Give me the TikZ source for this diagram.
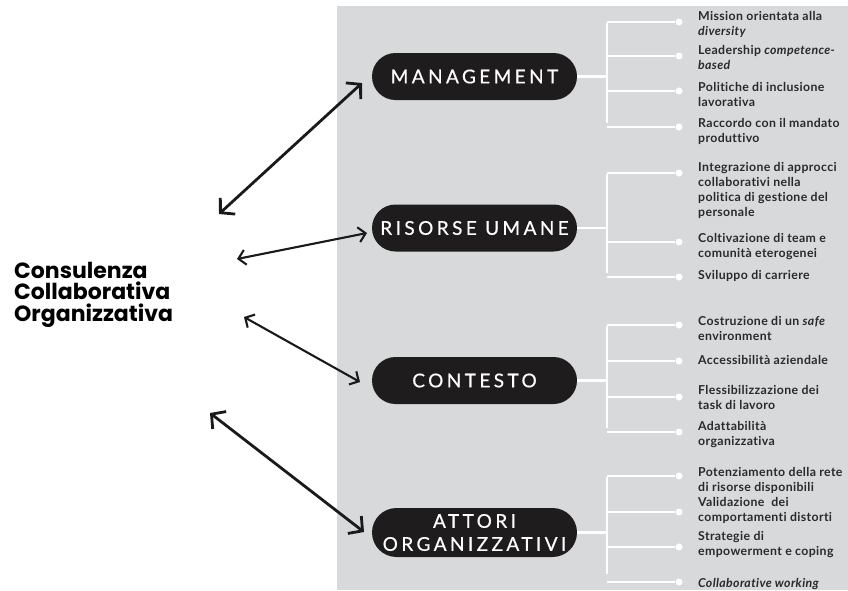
\documentclass[tikz,border=0pt]{standalone}
\usepackage{fontspec}
\setmainfont{Lato}
\newfontfamily\itemfont[LetterSpace=3,Ligatures={NoCommon}]{Lato}
\newfontfamily\pillfont[LetterSpace=18,FakeBold=0.6]{Lato}
\newfontfamily\titlefont{Poppins}
\usetikzlibrary{arrows.meta,shapes.misc}
\definecolor{panelgray}{HTML}{D8D9DB}
\definecolor{pillblack}{HTML}{1E1C1D}
\definecolor{inkdark}{HTML}{2A2A2A}
\definecolor{arrowink}{HTML}{1A1A1A}
\tikzset{
  pill/.style={rounded rectangle, fill=pillblack, text=white, minimum width=205pt,
    minimum height=47pt, inner sep=0pt, align=center,
    font=\pillfont\fontsize{19}{25}\selectfont},
  branch/.style={draw=white, line width=2.6pt},
  knob/.style={circle, fill=white, inner sep=0pt, minimum size=7pt},
  item/.style={anchor=north west, inner sep=0pt, align=left, text=inkdark,
    font=\itemfont\bfseries\fontsize{12.3}{15}\selectfont,
    execute at begin node={\rule{0pt}{10pt}}},
  bigarrow/.style={arrowink, line width=2.8pt, line cap=round,
    {Straight Barb[length=10pt,width=22pt]}-{Straight Barb[length=10pt,width=22pt]}},
  smallarrow/.style={arrowink, line width=2.1pt, line cap=round,
    {Straight Barb[length=7pt,width=15pt]}-{Straight Barb[length=7pt,width=15pt]}},
  title/.style={anchor=north west, inner sep=0pt, align=left, text=black,
    font=\titlefont\bfseries\fontsize{22}{21.5}\selectfont,
    execute at begin node={\rule{0pt}{17pt}}}
}
\begin{document}
\begin{tikzpicture}[x=1pt,y=-1pt]
\useasboundingbox (0,0) rectangle (848,590);
% grey panel behind the four areas
\fill[panelgray] (337,6) rectangle (848,590);

% title
\node[title] (title) at (14,262) {Consulenza\\Collaborativa\\Organizzativa};

% the four areas
\node[pill] (mgmt) at (474.5,76.5) {MANAGEMENT};
\node[pill] (hr)   at (474.5,228)  {RISORSE UMANE};
\node[pill] (ctx)  at (474.5,380.5) {CONTESTO};
\node[pill, minimum height=49pt] (act) at (474.5,532.5) {ATTORI\\[-2pt]ORGANIZZATIVI};

% arrows between the title and each area
\coordinate (a1s) at (219,214); \coordinate (a1e) at (362,83);
\coordinate (a2s) at (237,259); \coordinate (a2e) at (367,233);
\coordinate (a3s) at (244,317); \coordinate (a3e) at (360,382);
\coordinate (a4s) at (210,413); \coordinate (a4e) at (364,532);
\draw[bigarrow] (a1s) -- (a1e);
\draw[smallarrow] (a2s) -- (a2e);
\draw[smallarrow] (a3s) -- (a3e);
\draw[bigarrow] (a4s) -- (a4e);

% brace knobs
\foreach \n/\y in {m1/22,m2/56,m3/91,m4/127,
                   h1/173,h2/242,h3/277,
                   c1/325,c2/361,c3/397,c4/432,
                   t1/476,t2/512,t3/547,t4/582}
  \node[knob] (\n) at (679,\y) {};

% junctions on the vertical bars
\coordinate (mj) at (607,76.5);
\coordinate (hj) at (607,228);
\coordinate (cj) at (607,380.5);
\coordinate (tj) at (607,532.5);

% management brace
\draw[branch] (mgmt.east) -- (mj);
\draw[branch] ([yshift=-1.3pt]mj |- m1) -- ([yshift=4pt]mj |- m4);
\foreach \n in {m1,m2,m3,m4} \draw[branch] (mj |- \n) -- (\n);
% human resources brace
\draw[branch] (hr.east) -- (hj);
\draw[branch] ([yshift=-1.3pt]hj |- h1) -- ([yshift=4pt]hj |- h3);
\foreach \n in {h1,h2,h3} \draw[branch] (hj |- \n) -- (\n);
% context brace
\draw[branch] (ctx.east) -- (cj);
\draw[branch] ([yshift=-1.3pt]cj |- c1) -- ([yshift=4pt]cj |- c4);
\foreach \n in {c1,c2,c3,c4} \draw[branch] (cj |- \n) -- (\n);
% actors brace
\draw[branch] (act.east) -- (tj);
\draw[branch] ([yshift=-1.3pt]tj |- t1) -- ([yshift=8pt]tj |- t4);
\foreach \n in {t1,t2,t3,t4} \draw[branch] (tj |- \n) -- (\n);

% items
\node[item] (m1t) at (698,11)  {Mission orientata alla\\\textit{diversity}};
\node[item] (m2t) at (698,45)  {Leadership \textit{competence-}\\\textit{based}};
\node[item] (m3t) at (698,82)  {Politiche di inclusione\\lavorativa};
\node[item] (m4t) at (698,118) {Raccordo con il mandato\\produttivo};

\node[item] (h1t) at (698,162) {Integrazione di approcci\\collaborativi nella\\politica di gestione del\\personale};
\node[item] (h2t) at (698,233) {Coltivazione di team e\\comunità eterogenei};
\node[item] (h3t) at (698,269) {Sviluppo di carriere};

\node[item] (c1t) at (698,316) {Costruzione di un \textit{safe}\\environment};
\node[item] (c2t) at (698,354) {Accessibilità aziendale};
\node[item] (c3t) at (698,385) {Flessibilizzazione dei\\task di lavoro};
\node[item] (c4t) at (698,421) {Adattabilità\\organizzativa};

\node[item] (t1t) at (698,467) {Potenziamento della rete\\di risorse disponibili};
\node[item] (t2t) at (698,497) {Validazione~ dei\\comportamenti distorti};
\node[item] (t3t) at (698,531) {Strategie di\\empowerment e coping};
\node[item] (t4t) at (698,577) {\textit{Collaborative working}};
\end{tikzpicture}
\end{document}
